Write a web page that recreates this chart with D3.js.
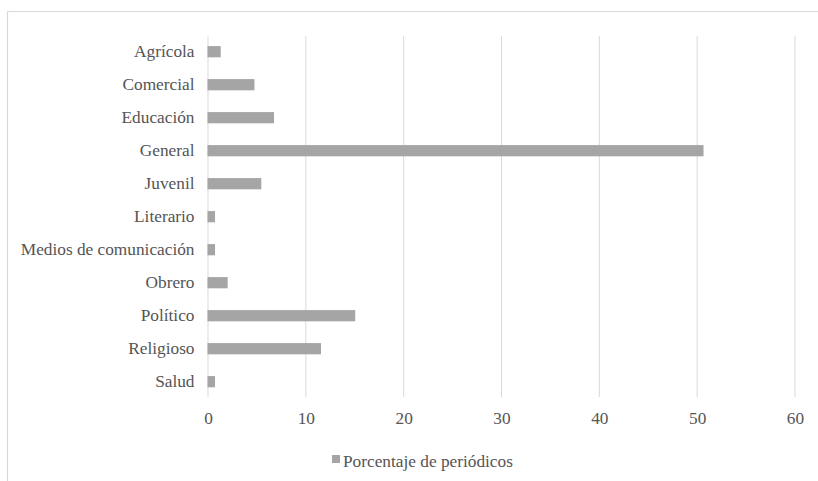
<!DOCTYPE html>
<html>
<head>
<meta charset="utf-8">
<script src="https://cdn.jsdelivr.net/npm/d3@7"></script>
</head>
<body style="margin:0">
<svg id="chart" width="818" height="481" style="display:block"></svg>
<script>
const categories = ["Agrícola", "Comercial", "Educación", "General", "Juvenil", "Literario",
  "Medios de comunicación", "Obrero", "Político", "Religioso", "Salud"];
const values = [1.35, 4.8, 6.8, 50.7, 5.5, 0.77, 0.77, 2.06, 15.1, 11.6, 0.77];
const xTicks = [0, 10, 20, 30, 40, 50, 60];
const seriesName = "Porcentaje de periódicos";

const FONT = "'Liberation Serif', 'Times New Roman', Tinos";
const FS = "17.3px";
const TXT = "#555555";
const svg = d3.select("#chart");
const W = 818, H = 481;

// frame (top and left edges visible)
svg.append("line").attr("x1", 7.5).attr("x2", W).attr("y1", 11.5).attr("y2", 11.5)
  .attr("stroke", "#d9d9d9").attr("stroke-width", 1.2);
svg.append("line").attr("x1", 7.5).attr("x2", 7.5).attr("y1", 11.5).attr("y2", H)
  .attr("stroke", "#d9d9d9").attr("stroke-width", 1.2);

const x = d3.scaleLinear().domain([0, 60]).range([207.5, 794.5]);
const y = d3.scaleBand().domain(categories).range([35.2, 398.2]).paddingInner(0.66).paddingOuter(0.33);

// gridlines
svg.append("g").selectAll("line").data(xTicks).join("line")
  .attr("x1", d => x(d) + 0.5).attr("x2", d => x(d) + 0.5)
  .attr("y1", 36).attr("y2", 397)
  .attr("stroke", "#d9d9d9").attr("stroke-width", 1);

// bars
svg.append("g").selectAll("rect").data(values).join("rect")
  .attr("x", x(0))
  .attr("y", (d, i) => y(categories[i]))
  .attr("width", d => x(d) - x(0))
  .attr("height", y.bandwidth())
  .attr("fill", "#a5a5a5");

// category labels
const yAxis = d3.axisLeft(y).tickSize(0).tickPadding(13);
const yg = svg.append("g").attr("transform", `translate(${x(0)},0)`).call(yAxis);
yg.attr("font-family", FONT).attr("font-size", 17.3);
yg.select(".domain").remove();
yg.selectAll("text").style("font-family", FONT).style("font-size", FS)
  .attr("fill", TXT).attr("dy", "0.33em");

// x tick labels
const xAxis = d3.axisBottom(x).tickValues(xTicks).tickSize(0).tickPadding(0).tickFormat(d3.format("d"));
const xg = svg.append("g").attr("transform", `translate(0.5,412)`).call(xAxis);
xg.attr("font-family", FONT).attr("font-size", 17.3);
xg.select(".domain").remove();
xg.selectAll("text").style("font-family", FONT).style("font-size", FS)
  .attr("fill", TXT).attr("dy", "0.71em");

// legend
const lg = svg.append("g");
lg.append("rect").attr("x", 332).attr("y", 455).attr("width", 8).attr("height", 8).attr("fill", "#a5a5a5");
lg.append("text").attr("x", 343).attr("y", 467).style("font-family", FONT).style("font-size", FS)
  .attr("fill", TXT).text(seriesName);
</script>
</body>
</html>
